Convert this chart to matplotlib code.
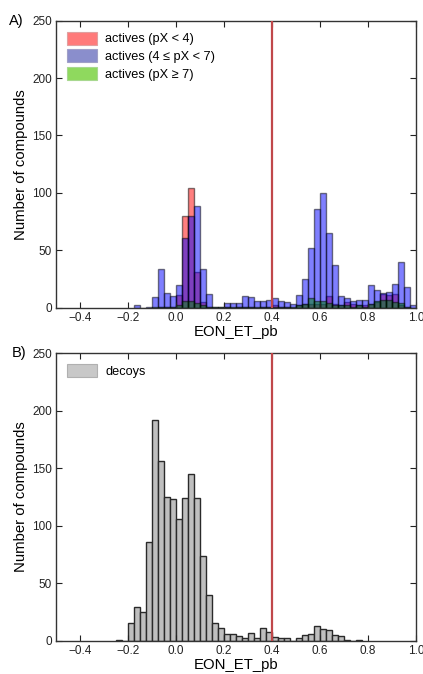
import numpy as np
import matplotlib
matplotlib.use("Agg")
import matplotlib.pyplot as plt
from matplotlib.patches import Patch

plt.rcParams['font.family'] = ['Liberation Sans', 'DejaVu Sans']

BIN_W = 0.025

# Panel A: actives, counts per bin of width 0.025 starting at given left edge
red_start = -0.075
red_counts = [1, 1, 1, 11, 80, 104, 31, 5, 1, 0, 0, 1, 0, 1, 1, 1, 0, 1, 1, 2, 1, 1, 0,
              2, 3, 3, 3, 3, 10, 3, 2, 5, 3, 2, 2, 3, 5, 12, 11, 12, 2, 1]

blue_start = -0.175
blue_counts = [2, 0, 1, 9, 34, 13, 10, 20, 61, 80, 89, 34, 12, 1, 1, 4, 4, 4, 10, 9, 6, 6, 7,
               8, 6, 5, 3, 11, 25, 52, 86, 100, 65, 37, 10, 8, 6, 7, 7, 20, 15, 13, 14, 21,
               40, 18, 2]

green_start = -0.1
green_counts = [1, 1, 1, 1, 2, 6, 6, 4, 2, 1, 1, 1, 1, 1, 1, 1, 1, 1, 1, 1, 1, 1, 1, 1,
                2, 3, 8, 6, 6, 4, 2, 2, 2, 1, 2, 1, 3, 6, 7, 7, 5, 4, 1]

# Panel B: decoys
decoy_start = -0.25
decoy_counts = [1, 0, 15, 29, 25, 86, 192, 156, 125, 123, 106, 124, 145, 124, 74, 40, 15,
                11, 6, 6, 4, 2, 7, 2, 11, 8, 3, 2, 2, 0, 2, 5, 6, 13, 10, 9, 5, 4, 1, 0, 1]

labels_A = ["actives (pX < 4)", "actives (4 \u2264 pX < 7)", "actives (pX \u2265 7)"]
label_B = "decoys"
threshold = 0.4
xticks = [-0.4, -0.2, 0.0, 0.2, 0.4, 0.6, 0.8, 1.0]
yticks = [0, 50, 100, 150, 200, 250]


def edges(start, counts):
    return start + BIN_W * np.arange(len(counts))


fig = plt.figure(figsize=(4.23, 6.74), dpi=100)
axA = fig.add_axes([0.1324, 0.5435, 0.851, 0.4258])
axB = fig.add_axes([0.1324, 0.0494, 0.851, 0.4264])

axA.bar(edges(red_start, red_counts), red_counts, width=BIN_W, align='edge',
        color='r', edgecolor='k', alpha=0.5, linewidth=1)
axA.bar(edges(blue_start, blue_counts), blue_counts, width=BIN_W, align='edge',
        color='b', edgecolor='k', alpha=0.5, linewidth=1)
axA.bar(edges(green_start, green_counts), green_counts, width=BIN_W, align='edge',
        color='g', edgecolor='k', alpha=0.5, linewidth=1)

axB.bar(edges(decoy_start, decoy_counts), decoy_counts, width=BIN_W, align='edge',
        color='#bfbfbf', edgecolor='#2a2a2a', linewidth=1)

leg_kw = dict(loc='upper left', frameon=False, fontsize=9.2, handlelength=2.35,
              handleheight=1.2, handletextpad=0.65, labelspacing=0.3, borderaxespad=0.45)
handlesA = [Patch(facecolor='#ff7a7a', edgecolor='#e0a0a0', lw=0.8),
            Patch(facecolor='#8a8ecc', edgecolor='#a0a0c8', lw=0.8),
            Patch(facecolor='#8fd95e', edgecolor='#a8d890', lw=0.8)]
axA.legend(handlesA, labels_A, **leg_kw)
handlesB = [Patch(facecolor='#c8c8c8', edgecolor='#b0b0b0', lw=0.8)]
axB.legend(handlesB, [label_B], **leg_kw)

for ax, tag, tx in ((axA, "A)", -0.13), (axB, "B)", -0.122)):
    ax.axvline(threshold, color='#c0474a', lw=1.6, zorder=5)
    ax.set_xlim(-0.5, 1.0)
    ax.set_ylim(0, 250)
    ax.set_xticks(xticks)
    ax.set_yticks(yticks)
    ax.set_xticklabels(["\u22120.4", "\u22120.2", "0.0", "0.2", "0.4", "0.6", "0.8", "1.0"])
    ax.tick_params(direction='in', top=True, right=True, labelsize=8.5, length=4,
                   width=0.8, colors='#222222', pad=3)
    for s in ax.spines.values():
        s.set_linewidth(1.0)
        s.set_color('#333333')
    ax.set_xlabel("EON_ET_pb", fontsize=10.7, labelpad=1)
    ax.set_ylabel("Number of compounds", fontsize=10.7, labelpad=3)
    ax.text(tx, 1.0, tag, transform=ax.transAxes, fontsize=10.5,
            ha='left', va='center')

fig.savefig("out.png", dpi=100)
